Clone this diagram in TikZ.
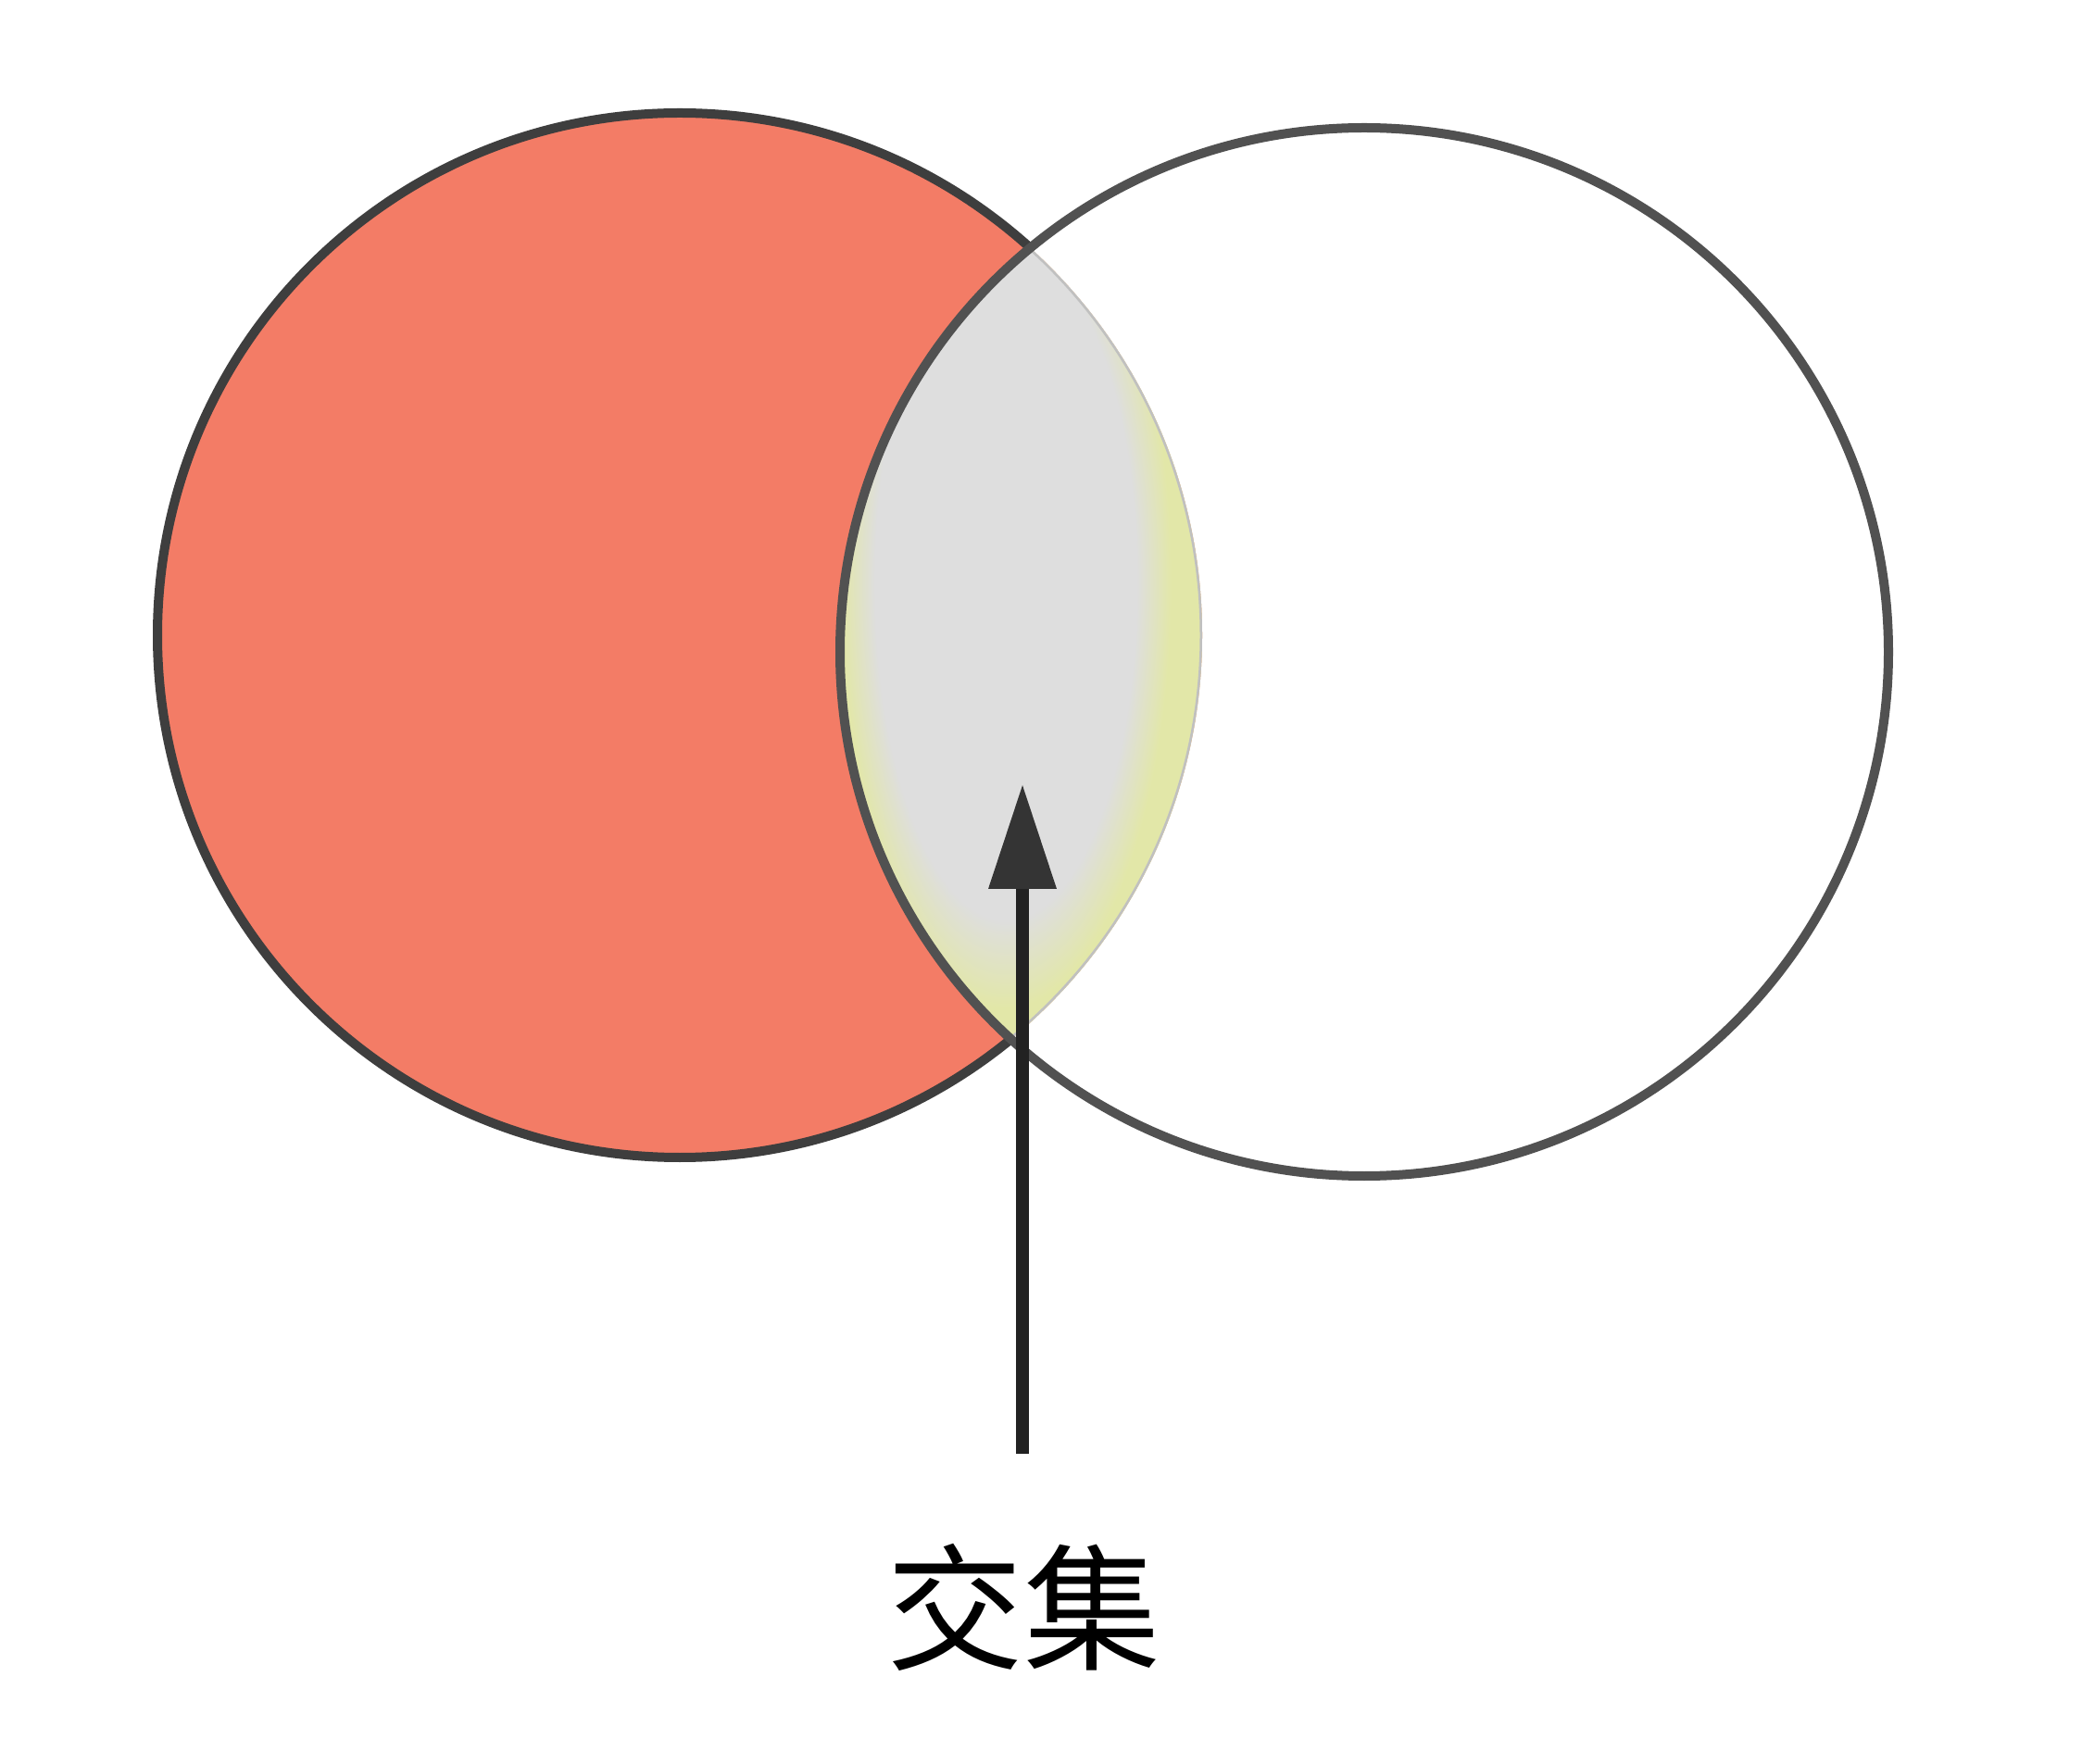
\documentclass[tikz,border=0pt]{standalone}
\usepackage{fontspec}
\newfontfamily\cjk{Noto Sans CJK SC}
\usetikzlibrary{arrows.meta}
\definecolor{setred}{RGB}{243,124,102}
\definecolor{lensgray}{RGB}{222,222,222}
\definecolor{lensyellow}{RGB}{226,231,168}
\definecolor{edgegray}{RGB}{192,192,192}
\definecolor{ringdark}{RGB}{62,62,62}
\definecolor{arrowdark}{RGB}{34,34,34}
\pgfdeclareradialshading{lensshade}{\pgfpoint{0bp}{0bp}}{color(0bp)=(lensgray); color(19bp)=(lensgray); color(24bp)=(lensyellow); color(25bp)=(lensyellow); color(50bp)=(lensyellow)}
\begin{document}
\begin{tikzpicture}
\tikzset{
  ring/.style={draw=ringdark, line width=0.1cm},
  pointer/.style={draw=arrowdark, line width=0.14cm, -{Triangle[length=1.12cm,width=0.74cm,line width=0pt,fill=arrowdark!92!white]}},
  lbl/.style={inner sep=0pt, text=black, font=\cjk\fontsize{42}{50}\selectfont}
}
\useasboundingbox (0,0) rectangle (22.48,19.04);
\fill[white] (0,0) rectangle (22.48,19.04);
% centres
\coordinate (cl) at (7.34,12.18);
\coordinate (cr) at (14.73,12.00);
% left set
\fill[setred] (cl) circle (5.64);
% intersection lens
\begin{scope}
  \clip (cl) circle (5.64);
  \clip (cr) circle (5.66);
  \fill[lensyellow] (8,6) rectangle (14,17);
  \shade[shading=lensshade] (9.00,7.96) rectangle (12.72,17.54);
  \draw[edgegray, line width=0.05cm] (cl) circle (5.64);
\end{scope}
% left ring outside right set
\begin{scope}[even odd rule]
  \clip (0,0) rectangle (22.48,19.04) (cr) circle (5.66);
  \draw[ring] (cl) circle (5.64);
\end{scope}
% right ring
\draw[ring, draw=ringdark!90!white] (cr) circle (5.66);
% label and arrow
\node[lbl] (label) at (11.05,1.68) {交集};
\coordinate (tail) at (11.04,3.34);
\coordinate (tip) at (11.04,10.56);
\draw[pointer] (tail) -- (tip);
\end{tikzpicture}
\end{document}
